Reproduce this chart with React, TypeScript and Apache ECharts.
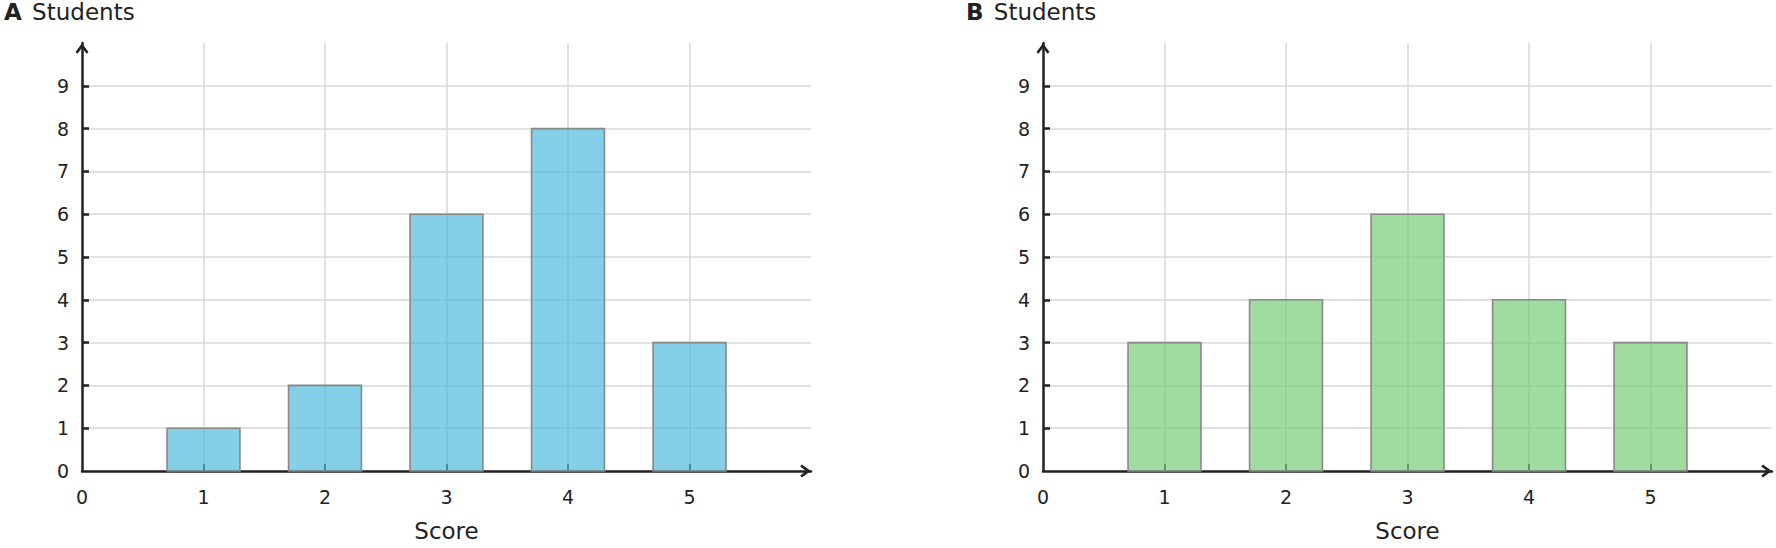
import React, { useEffect, useRef } from "react";
import * as echarts from "echarts";

// scores on the x axis and student counts per panel
const scores = [1, 2, 3, 4, 5];
const studentsA = [1, 2, 6, 8, 3];
const studentsB = [3, 4, 6, 4, 3];

const xLabels = [0, 1, 2, 3, 4, 5];
const xTicks = [1, 2, 3, 4, 5];
const yLabels = [0, 1, 2, 3, 4, 5, 6, 7, 8, 9];
const yTicks = [1, 2, 3, 4, 5, 6, 7, 8, 9];

const FONT = "DejaVu Sans";
const INK = "#222222";
const ARROW = "path://M6,0 L12,8.2 L10.2,9.8 L6,4.3 L1.8,9.8 L0,8.2 Z";

export default function App() {
    const chartRef = useRef<HTMLDivElement>(null);

    useEffect(() => {
        document.body.style.margin = "0";
        if (chartRef.current === null) return;
        const chart = echarts.init(chartRef.current, null, { renderer: "svg" });

        const panels = [
            { label: "A", data: studentsA, fill: "rgba(81,187,222,0.7)", left: 82, titleLeft: 4 },
            { label: "B", data: studentsB, fill: "rgba(119,204,119,0.7)", left: 1043, titleLeft: 966 },
        ];

        const axisLine = {
            show: true,
            symbol: ["none", ARROW],
            symbolSize: [13, 11],
            symbolOffset: [0, -5.5],
            lineStyle: { color: INK, width: 2.5 },
        };
        const splitLine = { show: true, lineStyle: { color: "#d9d9d9", width: 1.5 } };

        const option: echarts.EChartsOption = {
            animation: false,
            textStyle: { fontFamily: FONT },
            title: panels.map((p) => ({
                text: `{b|${p.label}} Students`,
                left: p.titleLeft,
                top: 0,
                padding: 0,
                textStyle: {
                    fontFamily: FONT,
                    fontSize: 23,
                    fontWeight: "normal",
                    color: INK,
                    rich: {
                        b: { fontFamily: FONT, fontSize: 23, fontWeight: "bold", color: INK, padding: [0, 3, 0, 0] },
                    },
                },
            })),
            grid: panels.map((p) => ({
                left: p.left,
                top: 43,
                width: 729,
                height: 428,
                containLabel: false,
                outerBoundsMode: "none",
            })) as any,
            xAxis: panels.map((_, i) => ({
                type: "value",
                gridIndex: i,
                min: 0,
                max: 6,
                interval: 1,
                name: "Score",
                nameLocation: "middle",
                nameGap: 48,
                nameTextStyle: { fontFamily: FONT, fontSize: 23, color: INK },
                axisLine,
                axisTick: {
                    show: true,
                    inside: true,
                    length: 7,
                    customValues: xTicks,
                    lineStyle: { color: INK, width: 2 },
                },
                axisLabel: {
                    customValues: xLabels,
                    margin: 16,
                    fontFamily: FONT,
                    fontSize: 19,
                    color: INK,
                },
                splitLine,
            })) as any,
            yAxis: panels.map((_, i) => ({
                type: "value",
                gridIndex: i,
                min: 0,
                max: 10,
                interval: 1,
                axisLine,
                axisTick: {
                    show: true,
                    inside: true,
                    length: 7,
                    customValues: yTicks,
                    lineStyle: { color: INK, width: 2.5 },
                },
                axisLabel: {
                    customValues: yLabels,
                    margin: 13,
                    fontFamily: FONT,
                    fontSize: 19,
                    color: INK,
                },
                splitLine,
            })) as any,
            series: panels.map((p, i) => ({
                type: "custom",
                xAxisIndex: i,
                yAxisIndex: i,
                data: scores.map((s, j) => [s, p.data[j]]),
                encode: { x: 0, y: 1 },
                renderItem: (_params: any, api: any) => {
                    const x = api.value(0);
                    const y = api.value(1);
                    const p0 = api.coord([x - 0.3, 0]);
                    const p1 = api.coord([x + 0.3, y]);
                    return {
                        type: "rect",
                        shape: { x: p0[0], y: p1[1], width: p1[0] - p0[0], height: p0[1] - p1[1] },
                        style: { fill: p.fill, stroke: "#888888", lineWidth: 1.6 },
                    };
                },
            })) as any,
        };

        chart.setOption(option);

        const handleResize = () => chart.resize();
        window.addEventListener("resize", handleResize);
        return () => {
            window.removeEventListener("resize", handleResize);
            chart.dispose();
        };
    }, []);

    return <div ref={chartRef} style={{ width: "1776px", height: "548px" }} />;
}
